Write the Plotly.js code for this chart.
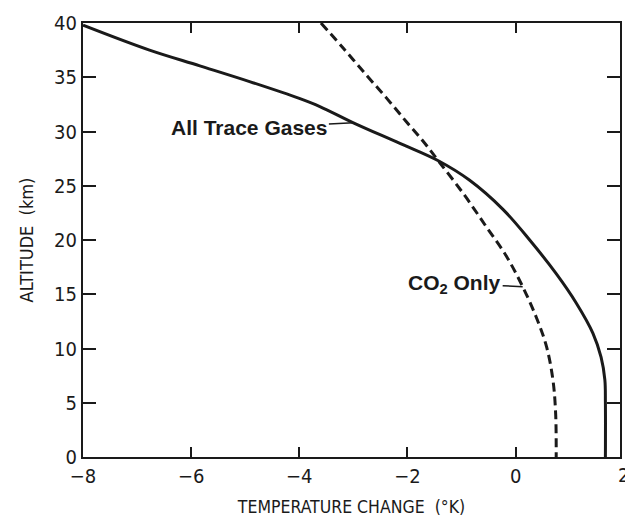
<!DOCTYPE html>
<html>
<head>
<meta charset="utf-8">
<script src="https://cdn.plot.ly/plotly-3.0.1.min.js"></script>
<style>
  html, body { margin: 0; padding: 0; background: #fff; }
  #chart { width: 625px; height: 523px; }
</style>
</head>
<body>
<div id="chart"></div>
<script>
// All Trace Gases (solid): temperature change (K) vs altitude (km)
const allGasesAlt  = [39.8, 37.5, 36.05, 34.6, 33.05, 32.3, 30.8, 28.9, 27.3, 25.5, 22.8, 20.0, 16.9, 14.2, 11.4, 9.2, 7.1, 5.0, 0];
const allGasesTemp = [-8.0, -6.77, -5.84, -4.92, -4.0, -3.62, -3.0, -2.14, -1.43, -0.85, -0.23, 0.26, 0.75, 1.12, 1.43, 1.58, 1.65, 1.66, 1.66];

// CO2 only (dashed)
const co2Alt  = [40, 37.7, 35.2, 33.1, 30.9, 29.1, 27.3, 24.3, 21.2, 18.5, 15.7, 12.9, 10.2, 7.1, 4.0, 0];
const co2Temp = [-3.6, -3.19, -2.76, -2.39, -2.02, -1.71, -1.43, -0.97, -0.54, -0.17, 0.13, 0.38, 0.57, 0.69, 0.74, 0.75];

const xTicks = [-8, -6, -4, -2, 0];
const xTickText = ['\u22128', '\u22126', '\u22124', '\u22122', '0'];
const yTicks = [0, 5, 10, 15, 20, 25, 30, 35, 40];
const xRange = [-8, 1.93];
const yRange = [0, 40];

const ink = '#1a1a1a';
const narrow = '"Liberation Sans Narrow", "DejaVu Sans Condensed", "Liberation Sans", sans-serif';
const bold = '"Liberation Sans", Arial, Helvetica, sans-serif';

const traces = [
  {
    x: allGasesTemp, y: allGasesAlt, type: 'scatter', mode: 'lines',
    line: {color: ink, width: 3, shape: 'spline', smoothing: 1.0},
    hoverinfo: 'skip', showlegend: false
  },
  {
    x: co2Temp, y: co2Alt, type: 'scatter', mode: 'lines',
    line: {color: ink, width: 3, dash: '9px,5px', shape: 'spline', smoothing: 1.0},
    hoverinfo: 'skip', showlegend: false
  }
];

const labelIdxAll = 6;   // point on the solid curve where the leader touches
const labelIdxCo2 = 10;  // point on the dashed curve where the leader touches

const axisCommon = {
  showgrid: false, zeroline: false,
  showline: true, linewidth: 2, linecolor: ink,
  ticks: 'inside', tickwidth: 2, tickcolor: ink,
  mirror: 'ticks',
  tickfont: {family: narrow, size: 20, color: ink}
};

const layout = {
  width: 625, height: 523,
  margin: {l: 83, r: 5, t: 23, b: 66},
  paper_bgcolor: '#fff', plot_bgcolor: '#fff',
  xaxis: Object.assign({}, axisCommon, {
    range: xRange, tickmode: 'array', tickvals: xTicks, ticktext: xTickText,
    ticklen: 10,
    title: {text: 'TEMPERATURE CHANGE\u00A0\u00A0(\u00B0K)', font: {family: narrow, size: 17.5, color: ink}, standoff: 14}
  }),
  yaxis: Object.assign({}, axisCommon, {
    range: yRange, tickmode: 'array', tickvals: yTicks,
    ticklen: 13,
    title: {text: 'ALTITUDE\u00A0\u00A0(km)', font: {family: narrow, size: 18, color: ink}, standoff: 16}
  }),
  annotations: [
    {
      x: allGasesTemp[labelIdxAll], y: allGasesAlt[labelIdxAll], xref: 'x', yref: 'y',
      text: '<b>All Trace Gases</b>', showarrow: true, arrowhead: 0, arrowwidth: 1.5, arrowcolor: ink,
      ax: -104, ay: 5, standoff: 0,
      font: {family: bold, size: 21, color: ink}
    },
    {
      x: co2Temp[labelIdxCo2], y: co2Alt[labelIdxCo2], xref: 'x', yref: 'y',
      text: '<b>CO<sub>2</sub> Only</b>', showarrow: true, arrowhead: 0, arrowwidth: 1.5, arrowcolor: ink,
      ax: -68, ay: -3, standoff: 0,
      font: {family: bold, size: 21, color: ink}
    },
    {
      x: (2 - xRange[0]) / (xRange[1] - xRange[0]), y: 0, xref: 'paper', yref: 'paper',
      xanchor: 'center', yanchor: 'top', yshift: -4,
      text: '2', showarrow: false,
      font: {family: narrow, size: 20, color: ink}
    }
  ]
};

Plotly.newPlot('chart', traces, layout, {staticPlot: true, displayModeBar: false});
</script>
</body>
</html>
